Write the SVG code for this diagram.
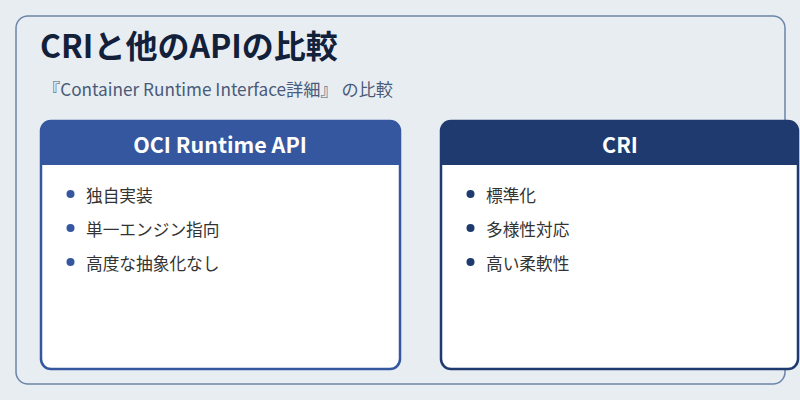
<svg xmlns="http://www.w3.org/2000/svg" width="800" height="400" viewBox="0 0 800 400">
<style>
.title{font-family:"Noto Sans CJK JP","Noto Sans",sans-serif;font-weight:bold;font-size:32px;fill:#12203a}
.sub{font-family:"Noto Sans CJK JP","Noto Sans",sans-serif;font-size:17.2px;fill:#4a5a78}
.hdr{font-family:"Noto Sans CJK JP","Noto Sans",sans-serif;font-weight:bold;font-size:21.5px;fill:#ffffff;text-anchor:middle}
.item{font-family:"Noto Sans CJK JP","Noto Sans",sans-serif;font-size:16.7px;fill:#333333}
</style>
<rect width="800" height="400" fill="#e8edf2"/>
<rect x="16" y="16" width="769" height="368" rx="12" fill="#e8edf2" stroke="#6b84aa" stroke-width="1.5"/>
<text class="title" x="40" y="58">CRIと他のAPIの比較</text>
<text class="sub" x="43" y="96">『Container Runtime Interface詳細』 の比較</text>
<g id="oci">
<rect x="41" y="121" width="359" height="248" rx="10" fill="#ffffff" stroke="#3457a0" stroke-width="2.5"/>
<path d="M41,165 V131 A10,10 0 0 1 51,121 H390 A10,10 0 0 1 400,131 V165 Z" fill="#3557a0"/>
<text class="hdr" x="220" y="153">OCI Runtime API</text>
<circle cx="70.5" cy="194" r="4" fill="#3557a0"/>
<text class="item" x="86" y="202">独自実装</text>
<circle cx="70.5" cy="228" r="4" fill="#3557a0"/>
<text class="item" x="86" y="236">単一エンジン指向</text>
<circle cx="70.5" cy="262" r="4" fill="#3557a0"/>
<text class="item" x="86" y="270">高度な抽象化なし</text>
</g>
<g id="cri">
<rect x="441" y="121" width="357" height="248" rx="10" fill="#ffffff" stroke="#1e3a6e" stroke-width="2.5"/>
<path d="M441,165 V131 A10,10 0 0 1 451,121 H788 A10,10 0 0 1 798,131 V165 Z" fill="#1e3a6e"/>
<text class="hdr" x="620" y="153">CRI</text>
<circle cx="470.5" cy="194" r="4" fill="#1e3a6e"/>
<text class="item" x="486" y="202">標準化</text>
<circle cx="470.5" cy="228" r="4" fill="#1e3a6e"/>
<text class="item" x="486" y="236">多様性対応</text>
<circle cx="470.5" cy="262" r="4" fill="#1e3a6e"/>
<text class="item" x="486" y="270">高い柔軟性</text>
</g>
<g id="connectors"/>
</svg>
